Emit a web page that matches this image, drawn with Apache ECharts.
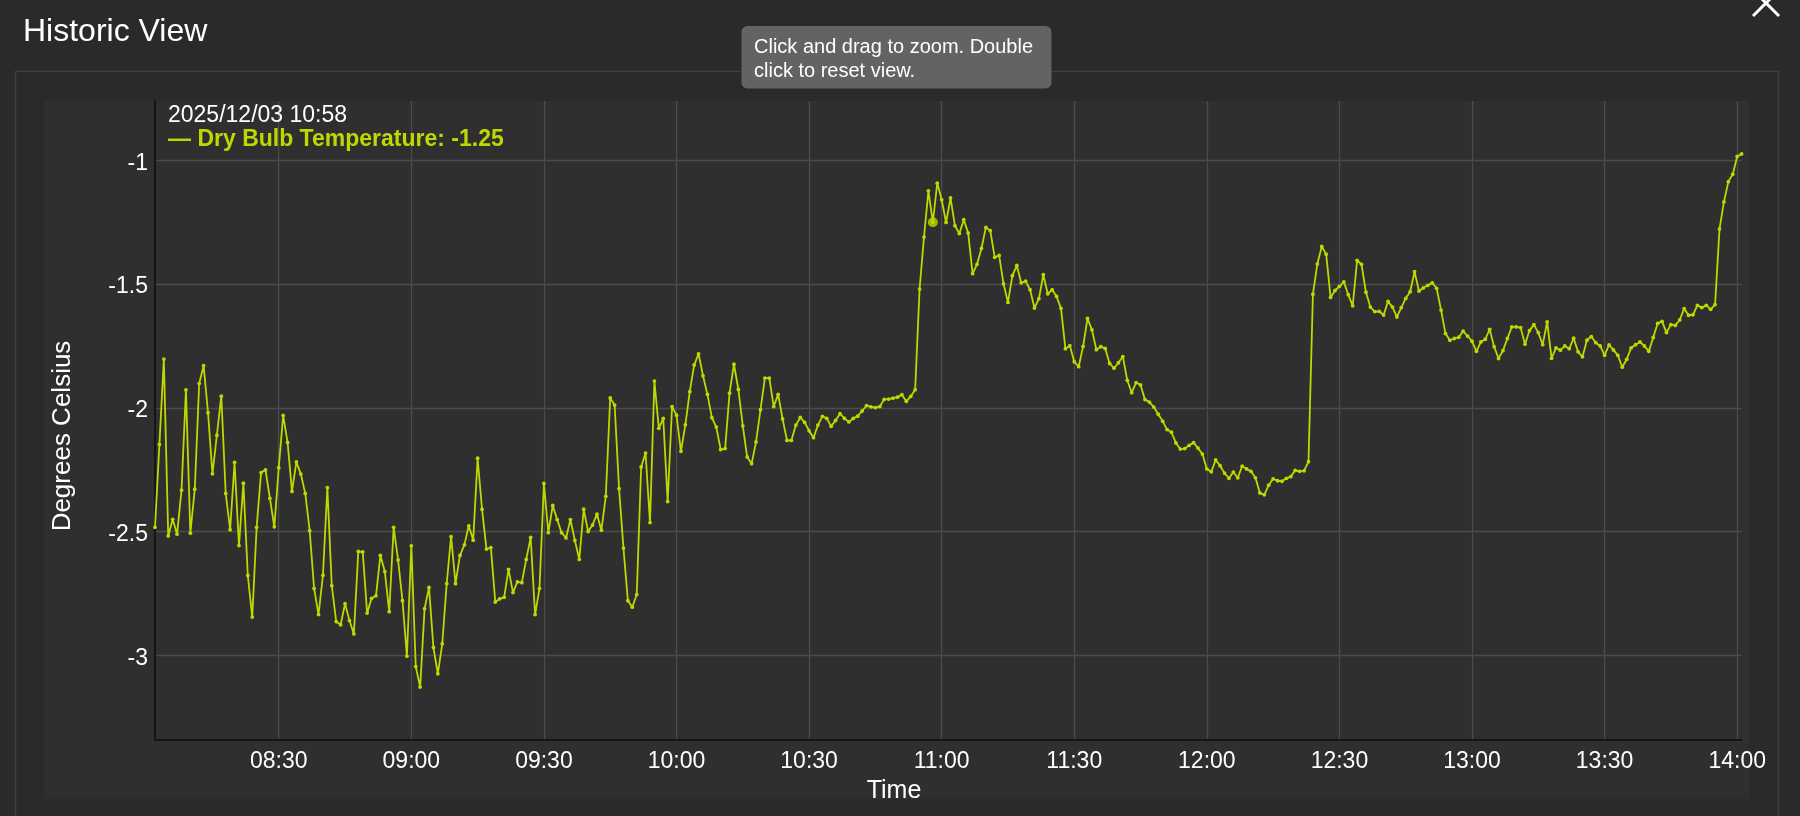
<!DOCTYPE html>
<html>
<head>
<meta charset="utf-8">
<script src="https://cdn.jsdelivr.net/npm/echarts@6/dist/echarts.min.js"></script>
<style>
  html, body { margin: 0; padding: 0; background: #2a2a2a; }
  #chart { width: 1800px; height: 816px; }
</style>
</head>
<body>
<div id="chart"></div>
<script>
// ---------------- data ----------------
const dateLabel = '2025/12/03';
const startClock = '08:02';          // first sample, one sample per minute
const seriesName = 'Dry Bulb Temperature';
const highlightClock = '10:58';
const temps = [
  -2.483, -2.148, -1.803, -2.518, -2.451, -2.511, -2.333, -1.928, -2.507, -2.329,
  -1.902, -1.830, -2.020, -2.267, -2.111, -1.953, -2.346, -2.493, -2.221, -2.557,
  -2.305, -2.678, -2.846, -2.483, -2.262, -2.251, -2.366, -2.481, -2.242, -2.031,
  -2.140, -2.338, -2.219, -2.268, -2.346, -2.497, -2.730, -2.836, -2.677, -2.323,
  -2.719, -2.864, -2.877, -2.792, -2.860, -2.914, -2.581, -2.583, -2.830, -2.770,
  -2.760, -2.597, -2.662, -2.824, -2.483, -2.615, -2.780, -3.004, -2.558, -3.046,
  -3.129, -2.812, -2.726, -2.969, -3.075, -2.954, -2.711, -2.521, -2.711, -2.597,
  -2.554, -2.477, -2.535, -2.204, -2.410, -2.571, -2.565, -2.785, -2.772, -2.766,
  -2.653, -2.747, -2.704, -2.707, -2.613, -2.524, -2.836, -2.730, -2.306, -2.505,
  -2.395, -2.452, -2.505, -2.526, -2.452, -2.536, -2.613, -2.410, -2.500, -2.474,
  -2.430, -2.495, -2.358, -1.960, -1.989, -2.327, -2.567, -2.780, -2.806, -2.755,
  -2.239, -2.183, -2.464, -1.892, -2.083, -2.043, -2.379, -1.995, -2.030, -2.176,
  -2.069, -1.935, -1.827, -1.782, -1.871, -1.946, -2.040, -2.078, -2.169, -2.165,
  -1.941, -1.824, -1.926, -2.073, -2.199, -2.226, -2.138, -2.008, -1.880, -1.880,
  -1.995, -1.946, -2.045, -2.132, -2.132, -2.070, -2.039, -2.059, -2.093, -2.121,
  -2.070, -2.035, -2.043, -2.075, -2.051, -2.024, -2.043, -2.057, -2.043, -2.034,
  -2.013, -1.991, -1.996, -1.999, -1.995, -1.966, -1.965, -1.961, -1.957, -1.947,
  -1.974, -1.954, -1.927, -1.520, -1.310, -1.123, -1.250, -1.092, -1.159, -1.251,
  -1.152, -1.264, -1.296, -1.240, -1.294, -1.458, -1.420, -1.356, -1.271, -1.284,
  -1.392, -1.384, -1.499, -1.574, -1.466, -1.425, -1.495, -1.488, -1.523, -1.597,
  -1.559, -1.462, -1.539, -1.523, -1.550, -1.598, -1.761, -1.749, -1.814, -1.834,
  -1.752, -1.639, -1.685, -1.765, -1.753, -1.760, -1.821, -1.840, -1.818, -1.793,
  -1.889, -1.939, -1.898, -1.908, -1.967, -1.977, -1.997, -2.026, -2.054, -2.088,
  -2.099, -2.142, -2.167, -2.165, -2.152, -2.141, -2.163, -2.187, -2.247, -2.259,
  -2.211, -2.234, -2.264, -2.285, -2.260, -2.283, -2.236, -2.247, -2.257, -2.283,
  -2.344, -2.352, -2.313, -2.287, -2.295, -2.297, -2.285, -2.278, -2.253, -2.257,
  -2.255, -2.218, -1.541, -1.419, -1.348, -1.379, -1.554, -1.526, -1.509, -1.491,
  -1.543, -1.588, -1.404, -1.420, -1.533, -1.593, -1.611, -1.610, -1.625, -1.570,
  -1.593, -1.633, -1.595, -1.558, -1.531, -1.450, -1.528, -1.515, -1.505, -1.495,
  -1.517, -1.605, -1.700, -1.727, -1.720, -1.715, -1.690, -1.710, -1.731, -1.772,
  -1.734, -1.723, -1.683, -1.753, -1.801, -1.769, -1.720, -1.673, -1.673, -1.676,
  -1.743, -1.688, -1.664, -1.696, -1.745, -1.653, -1.800, -1.758, -1.767, -1.750,
  -1.761, -1.719, -1.774, -1.794, -1.727, -1.712, -1.737, -1.750, -1.788, -1.746,
  -1.766, -1.788, -1.836, -1.804, -1.758, -1.745, -1.734, -1.750, -1.772, -1.716,
  -1.659, -1.651, -1.696, -1.664, -1.667, -1.645, -1.599, -1.626, -1.624, -1.586,
  -1.595, -1.586, -1.602, -1.583, -1.277, -1.168, -1.086, -1.056, -0.984, -0.974
];
const xTickLabels = ['08:30','09:00','09:30','10:00','10:30','11:00','11:30','12:00','12:30','13:00','13:30','14:00'];
const yTickValues = [-3, -2.5, -2, -1.5, -1];
const yRange = [-3.34, -0.76];

// ---------------- helpers ----------------
function toMin(s) { const p = s.split(':').map(Number); return p[0] * 60 + p[1]; }
function toClock(m) {
  const h = Math.floor(m / 60), mm = Math.round(m - h * 60);
  return String(h).padStart(2, '0') + ':' + String(mm).padStart(2, '0');
}
const start = toMin(startClock);
const seriesData = temps.map((v, i) => [start + i, v]);
const xTickValues = xTickLabels.map(toMin);
const hiX = toMin(highlightClock);
const hiIdx = hiX - start;
const hiVal = temps[hiIdx];

const FONT = '"Liberation Sans", Arial, Helvetica, sans-serif';
const LINE = '#bfd800';
const GRID = '#4c4c4c';

const chart = echarts.init(document.getElementById('chart'), null, { renderer: 'canvas' });
chart.setOption({
  backgroundColor: '#2a2a2a',
  animation: false,
  grid: { left: 155, top: 101, right: 58.4, bottom: 76.7, show: false },
  xAxis: {
    type: 'value',
    min: seriesData[0][0],
    max: seriesData[seriesData.length - 1][0],
    axisLine: { show: true, onZero: false, lineStyle: { color: '#151515', width: 2 } },
    axisTick: { show: false, customValues: xTickValues },
    axisLabel: {
      customValues: xTickValues,
      formatter: v => toClock(v),
      color: '#ffffff', fontSize: 23, fontFamily: FONT, margin: 10.5
    },
    splitLine: { show: true, lineStyle: { color: GRID, width: 1.3 } }
  },
  yAxis: {
    type: 'value',
    min: yRange[0],
    max: yRange[1],
    axisLine: { show: true, onZero: false, lineStyle: { color: '#151515', width: 2 } },
    axisTick: { show: false, customValues: yTickValues },
    axisLabel: {
      customValues: yTickValues,
      formatter: v => String(v),
      color: '#ffffff', fontSize: 23, fontFamily: FONT, margin: 7,
      verticalAlign: 'top', lineHeight: 6
    },
    splitLine: { show: true, lineStyle: { color: GRID, width: 1.3 } }
  },
  series: [
    {
      name: seriesName,
      type: 'line',
      data: seriesData,
      showSymbol: true,
      showAllSymbol: true,
      symbol: 'circle',
      symbolSize: 3.8,
      itemStyle: { color: LINE },
      lineStyle: { color: LINE, width: 1.8 },
      z: 3
    },
    {
      type: 'scatter',
      data: [[hiX, hiVal]],
      symbol: 'circle',
      symbolSize: 10,
      itemStyle: { color: LINE },
      z: 4
    }
  ],
  graphic: [
    // card border
    { type: 'rect', z: -20, shape: { x: 15.5, y: 71.5, width: 1763, height: 780 },
      style: { fill: '#2a2a2a', stroke: '#3f3f3f', lineWidth: 1.5 } },
    // chart container
    { type: 'rect', z: -10, shape: { x: 44, y: 101, width: 1705, height: 698 },
      style: { fill: '#2f2f2f' } },
    // title
    { type: 'text', z: 50, x: 23, y: 32,
      style: { text: 'Historic View', fill: '#ffffff', font: '32px ' + FONT, textVerticalAlign: 'middle' } },
    // close X
    { type: 'line', z: 50, shape: { x1: 1753, y1: 16, x2: 1779, y2: -10 }, style: { stroke: '#ffffff', lineWidth: 3 } },
    { type: 'line', z: 50, shape: { x1: 1753, y1: -10, x2: 1779, y2: 16 }, style: { stroke: '#ffffff', lineWidth: 3 } },
    // hint box
    { type: 'rect', z: 50, shape: { x: 741.5, y: 26, width: 310, height: 62.5, r: 6 },
      style: { fill: '#636363' } },
    { type: 'text', z: 51, x: 754, y: 47.5,
      style: { text: 'Click and drag to zoom. Double', fill: '#ffffff', font: '20px ' + FONT, textVerticalAlign: 'middle' } },
    { type: 'text', z: 51, x: 754, y: 71,
      style: { text: 'click to reset view.', fill: '#ffffff', font: '20px ' + FONT, textVerticalAlign: 'middle' } },
    // legend
    { type: 'text', z: 51, x: 168, y: 116,
      style: { text: dateLabel + ' ' + highlightClock, fill: '#ffffff', font: '23px ' + FONT, textVerticalAlign: 'middle' } },
    { type: 'text', z: 51, x: 168, y: 140,
      style: { text: '\u2014 ' + seriesName + ': ' + hiVal.toFixed(2), fill: LINE, font: 'bold 23px ' + FONT, textVerticalAlign: 'middle' } },
    // axis titles
    { type: 'text', z: 51, x: 63, y: 436, rotation: Math.PI / 2,
      style: { text: 'Degrees Celsius', fill: '#ffffff', font: '26px ' + FONT, textAlign: 'center', textVerticalAlign: 'middle' } },
    { type: 'text', z: 51, x: 894, y: 791,
      style: { text: 'Time', fill: '#ffffff', font: '25px ' + FONT, textAlign: 'center', textVerticalAlign: 'middle' } }
  ]
});
</script>
</body>
</html>
